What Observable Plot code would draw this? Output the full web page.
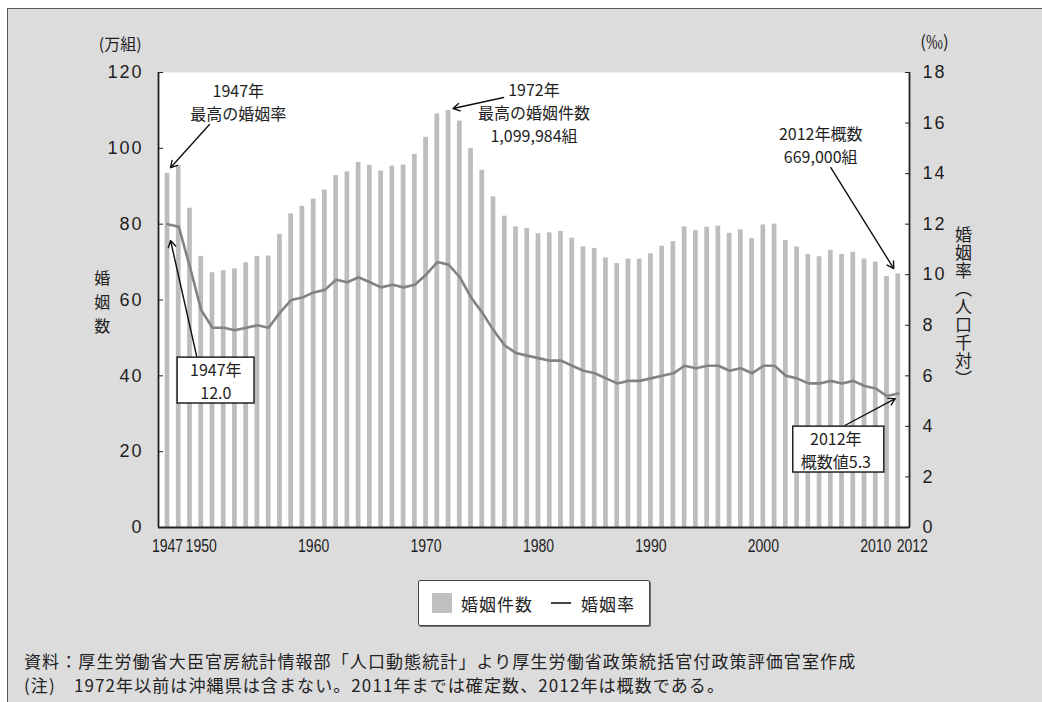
<!DOCTYPE html>
<html lang="ja">
<head>
<meta charset="utf-8">
<title>婚姻件数及び婚姻率の年次推移</title>
<script src="https://cdn.jsdelivr.net/npm/d3@7"></script>
<script src="https://cdn.jsdelivr.net/npm/@observablehq/plot@0.6"></script>
<style>
  html, body { margin: 0; padding: 0; background: #fff; }
  #page { position: relative; width: 1042px; height: 702px; overflow: hidden; background: #fff; }
  #panel { position: absolute; left: 7px; top: 8px; width: 1040px; height: 700px;
           background: #dcdcdc; border-left: 1.5px solid #555; border-top: 1.5px solid #555; }
  #chart { position: absolute; left: 0; top: 0; }
  #chart svg { display: block; }
  g[aria-label="note"] text { letter-spacing: 2px; }
  g[aria-label="y-axis tick label"] text { letter-spacing: 2px; }
  #legend { position: absolute; left: 418px; top: 580px; width: 232px; height: 46px; box-sizing: border-box;
            background: #fff; border: 1.5px solid #444; border-radius: 2px; box-shadow: 1px 1px 0 #777;
            font-family: "Noto Sans CJK JP", sans-serif; font-size: 17px; letter-spacing: 1px; color: #222;
            display: flex; align-items: center; }
  #legend .sw { width: 20px; height: 20px; background: #c0c0c0; margin-left: 13px; margin-right: 9px; }
  #legend .ln { width: 20px; height: 2.5px; background: #444; margin-left: 18px; margin-right: 10px; }
  #caption { position: absolute; left: 24px; top: 649px; font-family: "Noto Sans CJK JP", sans-serif;
             font-size: 17px; line-height: 24px; letter-spacing: 1.1px; color: #222; white-space: nowrap; }
</style>
</head>
<body>
<div id="page">
  <div id="panel"></div>
  <div id="chart"></div>
  <div id="legend"></div>
  <div id="caption"></div>
</div>
<script>
// 婚姻件数（万組）と婚姻率（人口千対）, 1947–2012
const years = [
  1947, 1948, 1949, 1950, 1951, 1952, 1953, 1954, 1955, 1956,
  1957, 1958, 1959, 1960, 1961, 1962, 1963, 1964, 1965, 1966,
  1967, 1968, 1969, 1970, 1971, 1972, 1973, 1974, 1975, 1976,
  1977, 1978, 1979, 1980, 1981, 1982, 1983, 1984, 1985, 1986,
  1987, 1988, 1989, 1990, 1991, 1992, 1993, 1994, 1995, 1996,
  1997, 1998, 1999, 2000, 2001, 2002, 2003, 2004, 2005, 2006,
  2007, 2008, 2009, 2010, 2011, 2012
];
const marriages = [ // 万組
  93.4, 95.4, 84.2, 71.5, 67.2, 67.7, 68.2, 69.8, 71.5, 71.6,
  77.3, 82.7, 84.7, 86.6, 89.0, 92.8, 93.8, 96.3, 95.5, 94.0,
  95.3, 95.6, 98.4, 102.9, 109.1, 109.9984, 107.2, 100.0, 94.2, 87.2,
  82.1, 79.3, 78.9, 77.5, 77.7, 78.1, 76.3, 74.0, 73.6, 71.1,
  69.6, 70.8, 70.8, 72.2, 74.2, 75.4, 79.3, 78.3, 79.2, 79.5,
  77.6, 78.5, 76.2, 79.8, 80.0, 75.7, 74.0, 72.0, 71.4, 73.1,
  72.0, 72.6, 70.8, 70.0, 66.2, 66.9
];
const rates = [ // ‰（人口千対）
  12.0, 11.9, 10.3, 8.6, 7.9, 7.9, 7.8, 7.9, 8.0, 7.9,
  8.5, 9.0, 9.1, 9.3, 9.4, 9.8, 9.7, 9.9, 9.7, 9.5,
  9.6, 9.5, 9.6, 10.0, 10.5, 10.4, 9.9, 9.1, 8.5, 7.8,
  7.2, 6.9, 6.8, 6.7, 6.6, 6.6, 6.4, 6.2, 6.1, 5.9,
  5.7, 5.8, 5.8, 5.9, 6.0, 6.1, 6.4, 6.3, 6.4, 6.4,
  6.2, 6.3, 6.1, 6.4, 6.4, 6.0, 5.9, 5.7, 5.7, 5.8,
  5.7, 5.8, 5.6, 5.5, 5.2, 5.3
];
const seriesNames = ["婚姻件数", "婚姻率"];
const xTicks = [1947, 1950, 1960, 1970, 1980, 1990, 2000, 2010];
const lastYearTick = [2012];
const countTicks = [0, 20, 40, 60, 80, 100, 120];
const rateTicks = [0, 2, 4, 6, 8, 10, 12, 14, 16, 18];
const rateTitle = "婚姻率（人口千対）";
const captionLines = [
  "資料：厚生労働省大臣官房統計情報部「人口動態統計」より厚生労働省政策統括官付政策評価官室作成",
  "(注)　1972年以前は沖縄県は含まない。2011年までは確定数、2012年は概数である。"
];

const rows = years.map((year, i) => ({year, count: marriages[i], rate: rates[i]}));

// the rate axis (0–18‰) shares the count scale (0–120万組)
const k = 120 / 18;
const xDomain = [1946.2, 2013.0];
const jp = "'Noto Sans CJK JP', sans-serif";
const num = "'Liberation Sans', 'DejaVu Sans', sans-serif";
const ink = "#1e1e1e";

const note = (text, x, y, lineHeight = 1.42) =>
  Plot.text([text], {x: () => x, y: () => y, text: d => d, fontSize: 16, fontFamily: jp,
                     fill: ink, lineHeight, ariaLabel: "note"});
const pointer = (x1, y1, x2, y2) =>
  Plot.arrow([0], {x1: () => x1, y1: () => y1, x2: () => x2, y2: () => y2,
                   stroke: "#111", strokeWidth: 1.4, headLength: 8});
const box = (x1, x2, y1, y2) =>
  Plot.rect([0], {x1: () => x1, x2: () => x2, y1: () => y1, y2: () => y2,
                  fill: "#fff", stroke: "#222", strokeWidth: 1.5});
const yearAxis = (ticks, dx) =>
  Plot.axisX(ticks, {tickSize: 0, tickPadding: 12, label: null, tickFormat: d => String(d), dx,
                     fontSize: 18, fontFamily: num, fill: ink});

const chart = Plot.plot({
  width: 1042,
  height: 570,
  marginLeft: 158,
  marginRight: 133,
  marginTop: 72,
  marginBottom: 43,
  style: {background: "transparent", fontFamily: jp, color: ink},
  x: {type: "linear", domain: xDomain},
  y: {domain: [0, 120]},
  marks: [
    Plot.frame({fill: "#fff", stroke: null}),
    Plot.rectY(rows, {x1: d => d.year - 0.21, x2: d => d.year + 0.21, y: "count", fill: "#bdbdbd"}),
    Plot.line(rows, {x: "year", y: d => d.rate * k, stroke: "#838383", strokeWidth: 2.6}),
    Plot.ruleY([0], {stroke: "#222", strokeWidth: 1.8}),
    Plot.ruleX([xDomain[0]], {stroke: "#222", strokeWidth: 1.8}),
    Plot.ruleX([xDomain[1]], {stroke: "#222", strokeWidth: 1.8}),
    Plot.axisY(countTicks, {anchor: "left", tickSize: -5, tickPadding: 20, label: null,
                            fontSize: 18, fontFamily: num, stroke: "#222", fill: ink}),
    Plot.axisY(rateTicks.map(r => r * k), {anchor: "right", tickSize: -5, tickPadding: 18, label: null,
                            tickFormat: v => String(Math.round(v / k)),
                            fontSize: 18, fontFamily: num, stroke: "#222", fill: ink}),
    yearAxis(xTicks, 0),
    yearAxis(lastYearTick, 14),

    // axis titles
    note("(万組)", 1942.8, 127.9),
    Plot.text(["(‰)"], {x: () => 2013.96, y: () => 127.9, text: d => d, textAnchor: "start",
                        fontSize: 17, fontFamily: jp, fill: ink}),
    note("婚\n姻\n数", 1941.2, 59.9, 1.5),
    Plot.text([rateTitle], {x: () => 2017.8, y: () => 59.6, text: d => d,
                            fontSize: 17, fontFamily: jp, fill: ink}),

    // callouts
    note("1947年\n最高の婚姻率", 1953.3, 112.4),
    pointer(1950.73, 106.3, 1947.27, 94.9),
    note("1972年\n最高の婚姻件数\n1,099,984組", 1979.6, 109.7),
    pointer(1976.9, 113.4, 1972.4, 110.5),
    note("2012年概数\n669,000組", 2005.1, 101.0),
    pointer(2006.0, 94.9, 2011.6, 68.3),

    pointer(1949.6, 45.1, 1947.27, 75.7),
    box(1947.9, 1954.74, 32.7, 44.8),
    note("1947年\n12.0", 1951.3, 38.8),

    pointer(2007.25, 26.9, 2011.73, 34.0),
    box(2002.66, 2010.76, 14.5, 26.6),
    note("2012年\n概数値5.3", 2006.45, 20.6)
  ]
});

const svg = d3.select(chart);
// condensed year labels along the bottom axis
svg.selectAll('g[aria-label="x-axis tick label"] text').each(function() {
  const t = this.getAttribute("transform") || "";
  this.setAttribute("transform", `${t} scale(0.78,1)`);
});
// the rate title runs top to bottom beside the right axis
svg.selectAll("text").filter(function() { return this.textContent === rateTitle; })
  .attr("dy", null)
  .attr("writing-mode", "vertical-rl")
  .style("writing-mode", "vertical-rl")
  .style("letter-spacing", "1px");

document.getElementById("chart").appendChild(chart);

// legend
document.getElementById("legend").innerHTML =
  `<span class="sw"></span><span>${seriesNames[0]}</span><span class="ln"></span><span>${seriesNames[1]}</span>`;

// source and notes
document.getElementById("caption").innerHTML = captionLines.map(s => `<div>${s}</div>`).join("");
</script>
</body>
</html>
